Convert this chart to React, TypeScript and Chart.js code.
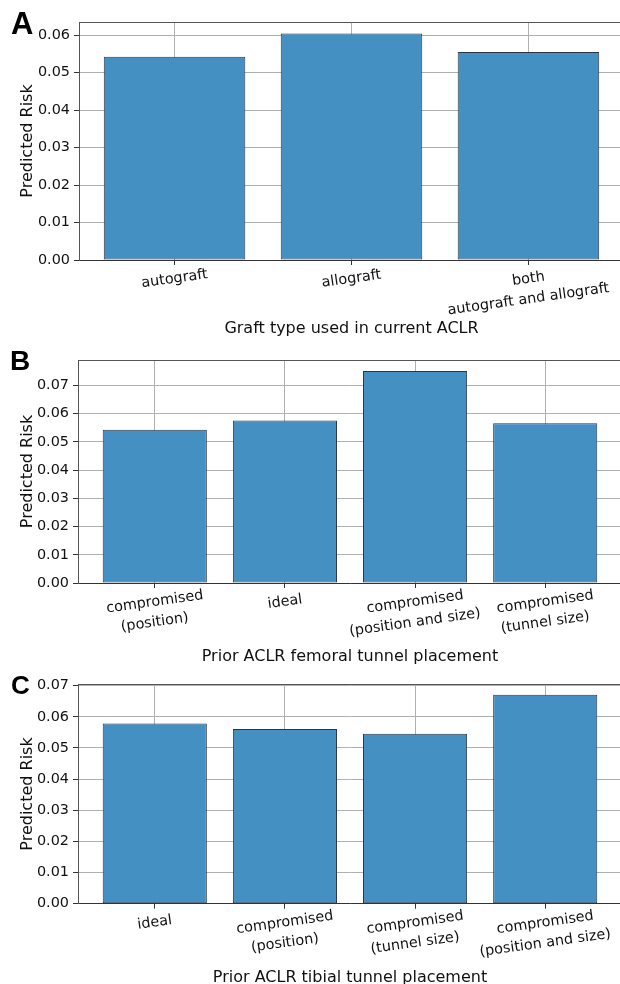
import React, { useEffect, useRef } from "react";
import { Chart, registerables } from "chart.js";

Chart.register(...registerables);

// ---- data ----
const categoriesA: string[][] = [["autograft"], ["allograft"], ["both", "autograft and allograft"]];
const riskA: number[] = [0.0542, 0.0604, 0.0555];
const yTicksA: number[] = [0, 0.01, 0.02, 0.03, 0.04, 0.05, 0.06];

const categoriesB: string[][] = [
  ["compromised", "(position)"],
  ["ideal"],
  ["compromised", "(position and size)"],
  ["compromised", "(tunnel size)"],
];
const riskB: number[] = [0.0543, 0.0576, 0.0751, 0.0566];
const yTicksB: number[] = [0, 0.01, 0.02, 0.03, 0.04, 0.05, 0.06, 0.07];

const categoriesC: string[][] = [
  ["ideal"],
  ["compromised", "(position)"],
  ["compromised", "(tunnel size)"],
  ["compromised", "(position and size)"],
];
const riskC: number[] = [0.0579, 0.0561, 0.0546, 0.0671];
const yTicksC: number[] = [0, 0.01, 0.02, 0.03, 0.04, 0.05, 0.06, 0.07];

const xTitles: string[] = [
  "Graft type used in current ACLR",
  "Prior ACLR femoral tunnel placement",
  "Prior ACLR tibial tunnel placement",
];
const panelLetters: string[] = ["A", "B", "C"];
const yTitle = "Predicted Risk";

// ---- style ----
const FONT = '"DejaVu Sans"';
const TICK_SIZE = 14.4;
const TITLE_SIZE = 16;
const TEXT = "#111";
const BAR_FILL = "#4590c3";
const BAR_EDGE = "#2b3643";
const GRID = "#b0b0b0";
const ROT = 8;
const LINE_H = 20.5;
const FIRST_LINE = 19;

interface PanelCfg {
  cats: string[][];
  vals: number[];
  yTicks: number[];
  letter: string;
  letterSize: number;
  letterX: number;
  letterBase: number;
  xTitle: string;
  xTitleBase: number;
  top: number;
  width: number;
  height: number;
  padTop: number;
  axisH: number;
  yAxisW: number;
  xMin: number;
  xMax: number;
  yMax: number;
}

const panels: PanelCfg[] = [
  {
    cats: categoriesA, vals: riskA, yTicks: yTicksA,
    letter: panelLetters[0], letterSize: 31, letterX: 11, letterBase: 34,
    xTitle: xTitles[0], xTitleBase: 333.3,
    top: 0, width: 624, height: 340, padTop: 22, axisH: 80, yAxisW: 79,
    xMin: -0.54, xMax: 2.54, yMax: 0.0635,
  },
  {
    cats: categoriesB, vals: riskB, yTicks: yTicksB,
    letter: panelLetters[1], letterSize: 28, letterX: 10, letterBase: 34,
    xTitle: xTitles[1], xTitleBase: 325,
    top: 336, width: 622, height: 330, padTop: 24, axisH: 83, yAxisW: 78,
    xMin: -0.59, xMax: 3.59, yMax: 0.079,
  },
  {
    cats: categoriesC, vals: riskC, yTicks: yTicksC,
    letter: panelLetters[2], letterSize: 26, letterX: 11, letterBase: 34.3,
    xTitle: xTitles[2], xTitleBase: 321.7,
    top: 660, width: 622, height: 324, padTop: 24.3, axisH: 80.3, yAxisW: 78,
    xMin: -0.59, xMax: 3.59, yMax: 0.07045,
  },
];

function Panel({ cfg }: { cfg: PanelCfg }) {
  const ref = useRef<HTMLCanvasElement | null>(null);
  useEffect(() => {
    if (!ref.current) return;
    const decor = {
      id: "decor",
      afterDraw(chart: any) {
        const ctx = chart.ctx as CanvasRenderingContext2D;
        const area = chart.chartArea;
        const xs = chart.scales.x;
        ctx.save();
        // top spine
        ctx.strokeStyle = "#555";
        ctx.lineWidth = 1;
        ctx.beginPath();
        ctx.moveTo(area.left, Math.round(area.top) + 0.5);
        ctx.lineTo(area.right, Math.round(area.top) + 0.5);
        ctx.stroke();
        // panel letter
        ctx.fillStyle = "#000";
        ctx.font = `bold ${cfg.letterSize}px "Liberation Sans"`;
        ctx.textAlign = "left";
        ctx.textBaseline = "alphabetic";
        ctx.fillText(cfg.letter, cfg.letterX, cfg.letterBase);
        // y title
        ctx.fillStyle = TEXT;
        ctx.font = `${TITLE_SIZE}px ${FONT}`;
        ctx.save();
        ctx.translate(31.5, (area.top + area.bottom) / 2);
        ctx.rotate(-Math.PI / 2);
        ctx.textAlign = "center";
        ctx.fillText(yTitle, 0, 0);
        ctx.restore();
        // x title
        ctx.textAlign = "center";
        ctx.fillText(cfg.xTitle, (area.left + area.right) / 2, cfg.xTitleBase);
        // x tick labels
        ctx.font = `${TICK_SIZE}px ${FONT}`;
        ctx.textBaseline = "middle";
        const th = (ROT * Math.PI) / 180;
        cfg.cats.forEach((lines, i) => {
          const cx = xs.getPixelForValue(i);
          lines.forEach((l, j) => {
            ctx.save();
            ctx.translate(cx, area.bottom + FIRST_LINE + j * LINE_H);
            ctx.rotate(-th);
            ctx.fillText(l, 0, 0);
            ctx.restore();
          });
        });
        ctx.restore();
      },
    };
    const chart = new Chart(ref.current, {
      type: "bar",
      data: {
        datasets: [
          {
            data: cfg.vals.map((v, i) => ({ x: i, y: v })),
            backgroundColor: BAR_FILL,
            borderColor: BAR_EDGE,
            borderWidth: 1,
            borderSkipped: false,
            barPercentage: 0.8,
            categoryPercentage: 1,
          },
        ],
      },
      options: {
        responsive: false,
        animation: false,
        devicePixelRatio: 1,
        layout: { padding: { top: cfg.padTop, left: 0, right: 0, bottom: 0 } },
        plugins: { legend: { display: false }, tooltip: { enabled: false } },
        scales: {
          x: {
            type: "linear",
            min: cfg.xMin,
            max: cfg.xMax,
            offset: false,
            z: 1,
            afterBuildTicks: (axis: any) => {
              axis.ticks = cfg.cats.map((_, i) => ({ value: i }));
            },
            afterFit: (axis: any) => {
              axis.height = cfg.axisH;
            },
            ticks: { display: false },
            grid: { offset: false, color: GRID, lineWidth: 1, drawTicks: true, tickLength: 5, tickColor: "#333" },
            border: { display: true, color: "#333", width: 1 },
          },
          y: {
            type: "linear",
            min: 0,
            max: cfg.yMax,
            z: 1,
            afterBuildTicks: (axis: any) => {
              axis.ticks = cfg.yTicks.map((v) => ({ value: v }));
            },
            afterFit: (axis: any) => {
              axis.width = cfg.yAxisW;
            },
            ticks: {
              callback: (v: any) => Number(v).toFixed(2),
              font: { family: "DejaVu Sans", size: TICK_SIZE },
              color: TEXT,
              padding: 4,
            },
            grid: { color: GRID, lineWidth: 1, drawTicks: true, tickLength: 5, tickColor: "#333" },
            border: { display: true, color: "#555", width: 1 },
          },
        },
      },
      plugins: [decor],
    } as any);
    return () => chart.destroy();
  }, [cfg]);
  return (
    <canvas
      ref={ref}
      width={cfg.width}
      height={cfg.height}
      style={{ position: "absolute", left: 0, top: cfg.top, width: cfg.width, height: cfg.height }}
    />
  );
}

export default function App() {
  return (
    <div
      style={{
        position: "fixed",
        left: 0,
        top: 0,
        width: 620,
        height: 984,
        overflow: "hidden",
        background: "#fff",
      }}
    >
      {panels.map((p, i) => (
        <Panel key={i} cfg={p} />
      ))}
    </div>
  );
}
